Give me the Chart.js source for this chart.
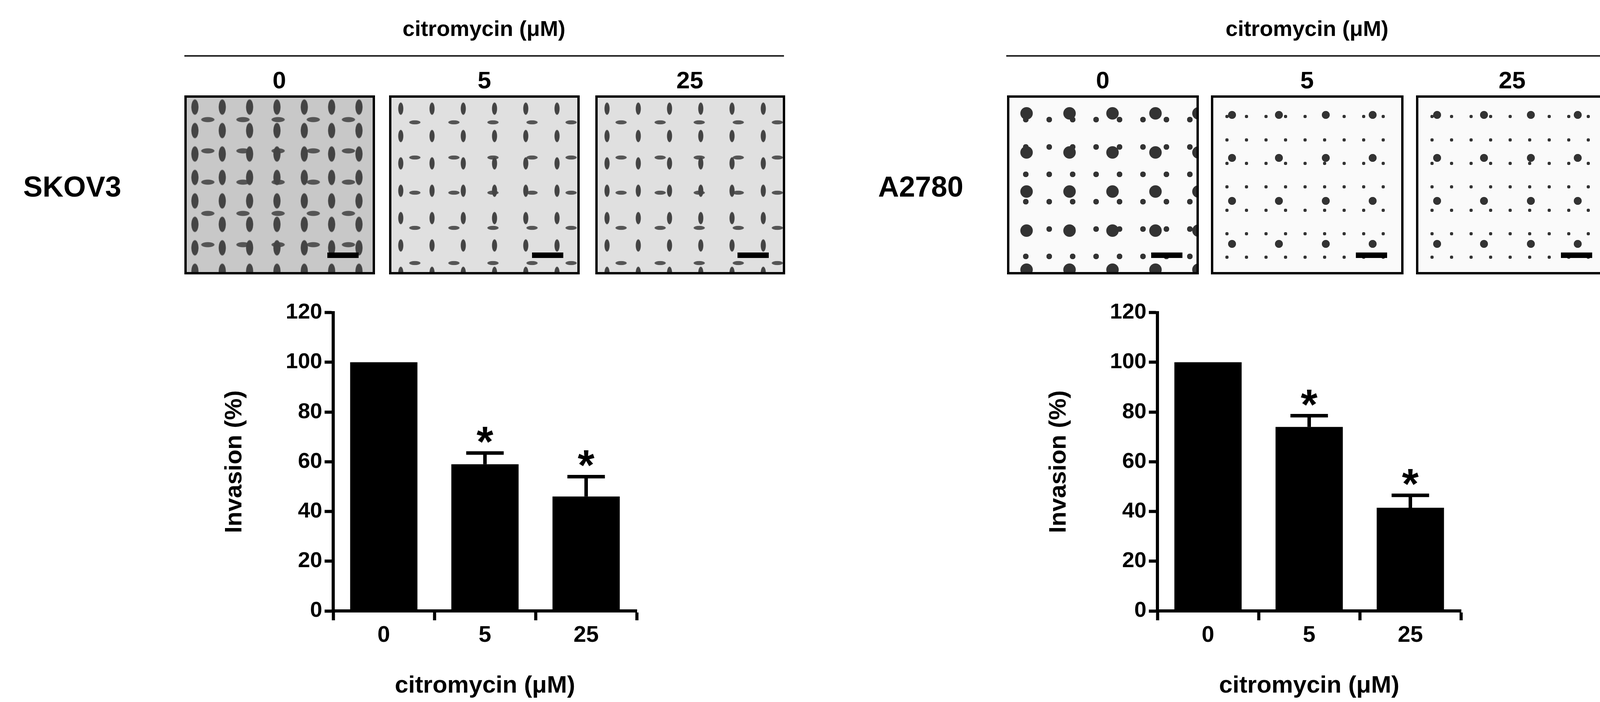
<!DOCTYPE html>
<html>
<head>
<meta charset="utf-8">
<script src="https://cdn.jsdelivr.net/npm/chart.js@4.4.0/dist/chart.umd.min.js"></script>
<style>
  body { margin: 0; background: #fff; width: 4155px; height: 1796px; position: relative; overflow: hidden;
         font-family: "Liberation Sans", Arial, sans-serif; font-weight: bold; color: #000; }
  .t { position: absolute; white-space: nowrap; transform: translate(-50%, -50%); }
  .line { position: absolute; height: 4px; background: #222; }
  .panel { position: absolute; border: 6px solid #000; box-sizing: border-box; }
  .panel .bar { position: absolute; right: 36px; bottom: 36px; width: 80px; height: 14px; background: #000; }
  .cells { background:
      radial-gradient(ellipse 14px 30px at 30% 40%, #444 60%, transparent 70%) 0 0/70px 60px,
      radial-gradient(ellipse 26px 10px at 60% 70%, #555 60%, transparent 70%) 0 0/90px 80px,
      #c8c8c8; }
  .cells2 { background:
      radial-gradient(ellipse 10px 24px at 30% 40%, #444 60%, transparent 70%) 0 0/80px 70px,
      radial-gradient(ellipse 22px 8px at 60% 70%, #555 60%, transparent 70%) 0 0/100px 90px,
      #e0e0e0; }
  .blobs { background:
      radial-gradient(circle 22px at 40% 40%, #333 70%, transparent 75%) 0 0/110px 100px,
      radial-gradient(circle 10px at 70% 80%, #333 70%, transparent 75%) 0 0/60px 70px,
      #fafafa; }
  .blobs2 { background:
      radial-gradient(circle 14px at 40% 40%, #333 70%, transparent 75%) 0 0/120px 110px,
      radial-gradient(circle 6px at 70% 80%, #333 70%, transparent 75%) 0 0/50px 60px,
      #fafafa; }
  canvas { position: absolute; }
</style>
</head>
<body>
<div class="t" style="left:1239px;top:72px;font-size:56px">citromycin (μM)</div>
<div class="line" style="left:472px;top:141px;width:1535px"></div>
<div class="t" style="left:715px;top:204px;font-size:62px">0</div>
<div class="t" style="left:1240px;top:204px;font-size:62px">5</div>
<div class="t" style="left:1766px;top:204px;font-size:62px">25</div>
<div class="t" style="left:185px;top:477px;font-size:74px">SKOV3</div>
<div class="panel cells" style="left:472px;top:244px;width:488px;height:458px"><div class="bar"></div></div>
<div class="panel cells2" style="left:996px;top:244px;width:488px;height:458px"><div class="bar"></div></div>
<div class="panel cells2" style="left:1524px;top:244px;width:486px;height:458px"><div class="bar"></div></div>

<div class="t" style="left:3346px;top:72px;font-size:56px">citromycin (μM)</div>
<div class="line" style="left:2576px;top:141px;width:1540px"></div>
<div class="t" style="left:2823px;top:204px;font-size:62px">0</div>
<div class="t" style="left:3346px;top:204px;font-size:62px">5</div>
<div class="t" style="left:3871px;top:204px;font-size:62px">25</div>
<div class="t" style="left:2357px;top:477px;font-size:74px">A2780</div>
<div class="panel blobs" style="left:2578px;top:244px;width:491px;height:458px"><div class="bar"></div></div>
<div class="panel blobs2" style="left:3100px;top:244px;width:493px;height:458px"><div class="bar"></div></div>
<div class="panel blobs2" style="left:3625px;top:244px;width:493px;height:458px"><div class="bar"></div></div>

<canvas id="c1" style="left:560px;top:760px;width:1150px;height:1036px" width="1150" height="1036"></canvas>
<canvas id="c2" style="left:2670px;top:760px;width:1150px;height:1036px" width="1150" height="1036"></canvas>
<script>
const doses = ["0", "5", "25"];
const yTicks = [0, 20, 40, 60, 80, 100, 120];
const skov3Values = [100, 59, 46];
const skov3Errors = [0, 4.5, 8];
const a2780Values = [100, 74, 41.5];
const a2780Errors = [0, 4.5, 5];
const significant = [false, true, true];

const FONT = "'Liberation Sans', Arial, sans-serif";

const errorBarPlugin = {
    id: "errorBars",
    afterDatasetsDraw(chart, args, opts) {
        const ctx = chart.ctx;
        const meta = chart.getDatasetMeta(0);
        const y = chart.scales.y;
        ctx.save();
        ctx.strokeStyle = "#000";
        ctx.fillStyle = "#000";
        ctx.lineWidth = 9;
        meta.data.forEach((bar, i) => {
            const v = opts.values[i], e = opts.errors[i];
            const top = y.getPixelForValue(v + e);
            if (e > 0) {
                ctx.beginPath();
                ctx.moveTo(bar.x, y.getPixelForValue(v));
                ctx.lineTo(bar.x, top);
                ctx.moveTo(bar.x - 48, top);
                ctx.lineTo(bar.x + 48, top);
                ctx.stroke();
            }
            if (opts.sig[i]) {
                ctx.font = "bold 110px " + FONT;
                ctx.textAlign = "center";
                ctx.textBaseline = "alphabetic";
                ctx.fillText("*", bar.x, top + 8);
            }
        });
        ctx.restore();
    }
};

function makeChart(id, values, errors) {
    new Chart(document.getElementById(id), {
        type: "bar",
        data: {
            labels: doses,
            datasets: [{
                data: values,
                backgroundColor: "#000",
                borderWidth: 0,
                barPercentage: 0.665,
                categoryPercentage: 1
            }]
        },
        options: {
            responsive: false,
            animation: false,
            layout: { padding: { top: 35, right: 80 } },
            plugins: {
                legend: { display: false },
                tooltip: { enabled: false },
                errorBars: { values: values, errors: errors, sig: significant }
            },
            scales: {
                x: {
                    afterFit(s) { s.height = 233; },
                    grid: { drawOnChartArea: false, tickLength: 24, tickWidth: 8, color: "#000" },
                    border: { color: "#000", width: 8 },
                    ticks: { color: "#000", padding: 4, font: { family: FONT, size: 58, weight: "bold" } },
                    title: { display: true, text: "citromycin (μM)", color: "#000", padding: { top: 14 },
                             font: { family: FONT, size: 62, weight: "bold" } }
                },
                y: {
                    min: 0, max: 120,
                    afterFit(s) { s.width = 293; },
                    afterBuildTicks(s) { s.ticks = yTicks.map(v => ({ value: v })); },
                    grid: { drawOnChartArea: false, tickLength: 22, tickWidth: 8, color: "#000" },
                    border: { color: "#000", width: 8 },
                    ticks: { color: "#000", padding: 6, font: { family: FONT, size: 56, weight: "bold" } },
                    title: { display: true, text: "Invasion (%)", color: "#000", padding: { bottom: 16 },
                             font: { family: FONT, size: 62, weight: "bold" } }
                }
            }
        },
        plugins: [errorBarPlugin]
    });
}

makeChart("c1", skov3Values, skov3Errors);
makeChart("c2", a2780Values, a2780Errors);
</script>
</body>
</html>
